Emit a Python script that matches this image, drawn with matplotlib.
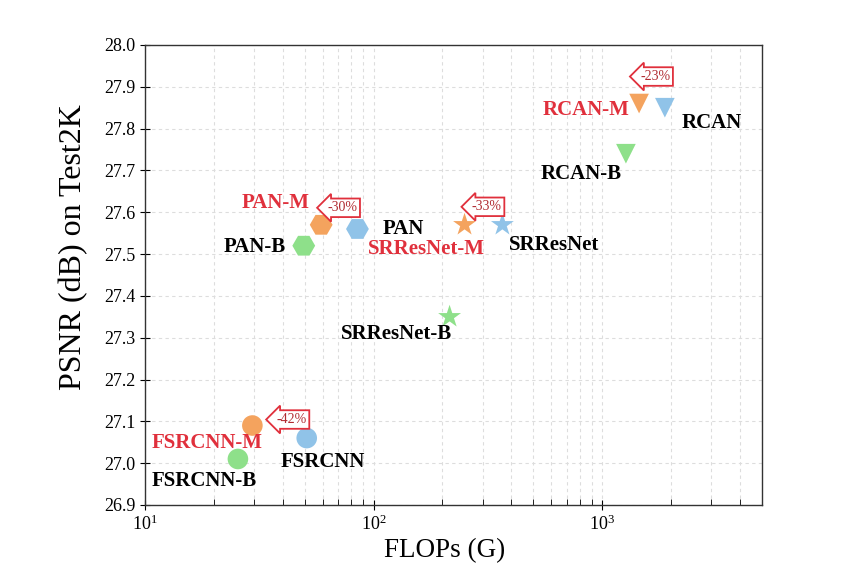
import matplotlib
matplotlib.use("Agg")
import matplotlib.pyplot as plt

# Model names, FLOPs (G) and PSNR (dB)
names = ["FSRCNN", "FSRCNN-M", "FSRCNN-B",
         "PAN", "PAN-M", "PAN-B",
         "SRResNet", "SRResNet-M", "SRResNet-B",
         "RCAN", "RCAN-M", "RCAN-B"]
flops = [51, 29.5, 25.5,
         85, 59, 49.5,
         366, 250, 215,
         1880, 1450, 1270]
psnr = [27.06, 27.09, 27.01,
        27.56, 27.57, 27.52,
        27.57, 27.57, 27.35,
        27.85, 27.86, 27.74]

# FLOPs reduction shown in the arrow boxes, one per "-M" model
reduction_models = ["FSRCNN-M", "PAN-M", "SRResNet-M", "RCAN-M"]
reduction_text = ["-42%", "-30%", "-33%", "-23%"]

# Styles
BLUE = "#90c3e8"
ORANGE = "#f4a35e"
GREEN = "#8ee08a"
RED = "#e0303c"
marker_of = {"FSRCNN": "o", "PAN": "H", "SRResNet": "*", "RCAN": "v"}
size_of = {"FSRCNN": 220, "PAN": 270, "SRResNet": 300, "RCAN": 200}

# label placement in pixels relative to marker: (dx, dy, ha)
label_pos = {
    "FSRCNN": (-26, -24, "left"), "FSRCNN-M": (10, -17, "right"), "FSRCNN-B": (19, -22, "right"),
    "PAN": (25, 0, "left"), "PAN-M": (-12, 22, "right"), "PAN-B": (-18, -1, "right"),
    "SRResNet": (7, -20, "left"), "SRResNet-M": (20, -24, "right"), "SRResNet-B": (3, -17, "right"),
    "RCAN": (17, -15, "left"), "RCAN-M": (-10, -6, "right"), "RCAN-B": (-4, -20, "right"),
}
arrow_pos = {"FSRCNN-M": (39, 6), "PAN-M": (21, 17), "SRResNet-M": (22, 18), "RCAN-M": (16, 27)}

plt.rcParams["font.family"] = ["Liberation Serif", "DejaVu Serif"]

fig = plt.figure(figsize=(8.65, 5.85), dpi=100)
ax = fig.add_axes([0.1676, 0.1368, 0.7133, 0.7863])

for name, x, y in zip(names, flops, psnr):
    base = name.replace("-M", "").replace("-B", "")
    if name.endswith("-M"):
        color = ORANGE
    elif name.endswith("-B"):
        color = GREEN
    else:
        color = BLUE
    ax.scatter(x, y, s=size_of[base], marker=marker_of[base], color=color,
               edgecolors="none", zorder=3)
    dx, dy, ha = label_pos[name]
    ax.annotate(name, (x, y), xytext=(dx, dy), textcoords="offset pixels",
                ha=ha, va="center", fontsize=15, fontweight="bold",
                color=RED if name.endswith("-M") else "black", zorder=4)

for name, txt in zip(reduction_models, reduction_text):
    i = names.index(name)
    dx, dy = arrow_pos[name]
    ax.annotate(txt, (flops[i], psnr[i]), xytext=(dx, dy), textcoords="offset pixels",
                ha="center", va="center", fontsize=10, color="#b02a30", zorder=5,
                bbox=dict(boxstyle="larrow,pad=0.2", fc="white", ec=RED, lw=1.3))

ax.set_xscale("log")
ax.set_xlim(10, 5000)
ax.set_ylim(26.9, 28.0)
ax.set_yticks([26.9 + 0.1 * k for k in range(12)])
ax.set_yticklabels([f"{26.9 + 0.1 * k:.1f}" for k in range(12)])

ax.grid(True, which="both", axis="x", ls=(0, (3, 3)), color="#dddddd", lw=0.8)
ax.grid(True, which="major", axis="y", ls=(0, (3, 3)), color="#dddddd", lw=0.8)
ax.set_axisbelow(True)

ax.tick_params(which="major", direction="inout", length=7, labelsize=13)
ax.tick_params(which="minor", direction="in", length=4)
for s in ax.spines.values():
    s.set_color("#333333")
    s.set_linewidth(1.0)

ax.set_xlabel("FLOPs (G)", fontsize=19.5)
ax.set_ylabel("PSNR (dB) on Test2K", fontsize=23)
ax.xaxis.set_label_coords(0.485, -0.072)
ax.yaxis.set_label_coords(-0.092, 0.56)

fig.savefig("out.png", dpi=100)
